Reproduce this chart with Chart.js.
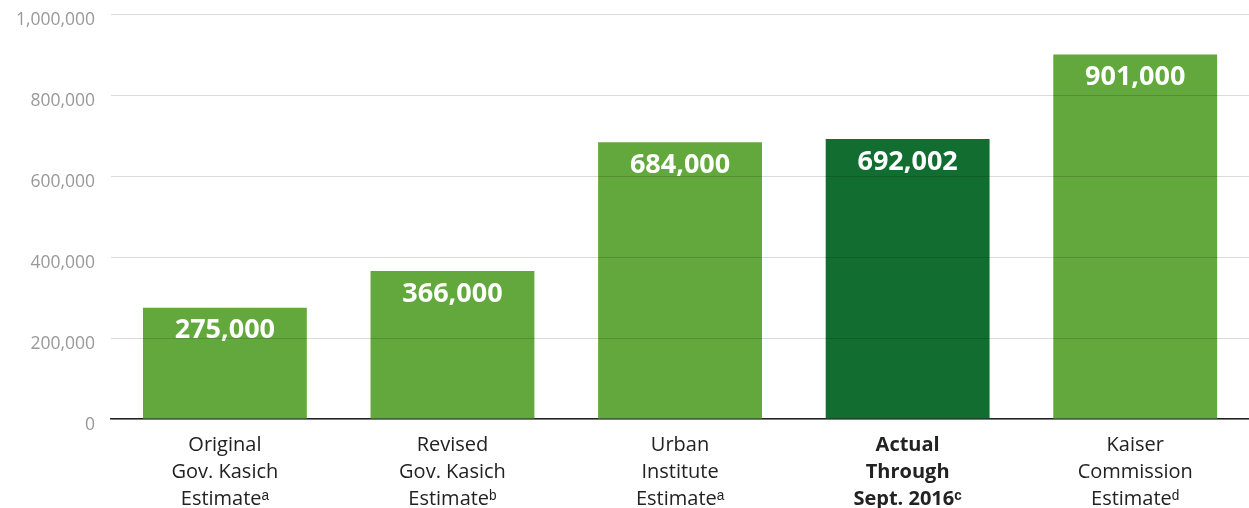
<!DOCTYPE html>
<html>
<head>
<meta charset="utf-8">
<script src="https://cdn.jsdelivr.net/npm/chart.js@4.4.1/dist/chart.umd.min.js"></script>
<style>
  html, body { margin: 0; padding: 0; background: #fff; overflow: hidden; }
  #wrap { position: relative; width: 1249px; height: 530px; margin-top: -12px; }
</style>
</head>
<body>
<div id="wrap"><canvas id="chart"></canvas></div>
<script>
// category labels (multi-line), superscripts as unicode modifier letters
const categories = [
  ['Original', 'Gov. Kasich', 'Estimate\u1D43'],
  ['Revised', 'Gov. Kasich', 'Estimate\u1D47'],
  ['Urban', 'Institute', 'Estimate\u1D43'],
  ['Actual', 'Through', 'Sept. 2016\u1D9C'],
  ['Kaiser', 'Commission', 'Estimate\u1D48']
];
const enrollment = [275000, 366000, 684000, 692002, 901000];
const barColors = ['#62a83c', '#62a83c', '#62a83c', '#116e30', '#62a83c'];
const highlightIndex = 3;

const fmt = v => v.toLocaleString('en-US');

// white value labels near the top of each bar
const valueLabels = {
  id: 'valueLabels',
  afterDatasetsDraw(chart) {
    const ctx = chart.ctx;
    const meta = chart.getDatasetMeta(0);
    ctx.save();
    ctx.fillStyle = '#fff';
    ctx.font = 'bold 27px "Open Sans", sans-serif';
    ctx.textAlign = 'center';
    ctx.textBaseline = 'middle';
    meta.data.forEach((bar, i) => {
      ctx.fillText(fmt(enrollment[i]), bar.x, bar.y + 23);
    });
    ctx.restore();
  }
};

new Chart(document.getElementById('chart'), {
  type: 'bar',
  data: {
    labels: categories,
    datasets: [{
      data: enrollment,
      backgroundColor: barColors,
      borderWidth: 0,
      barPercentage: 0.72,
      categoryPercentage: 1.0
    }]
  },
  options: {
    responsive: true,
    maintainAspectRatio: false,
    animation: false,
    layout: { padding: { top: 0, right: 0, left: 0, bottom: 0 } },
    plugins: {
      legend: { display: false },
      tooltip: { enabled: false }
    },
    scales: {
      x: {
        grid: { display: false },
        border: { display: true, color: '#222', width: 1.5 },
        ticks: {
          color: '#222',
          padding: 5,
          maxRotation: 0,
          autoSkip: false,
          font: ctx => ({
            family: '"Open Sans", sans-serif',
            size: 20,
            lineHeight: 1.35,
            weight: ctx.index === highlightIndex ? 'bold' : 'normal'
          })
        }
      },
      y: {
        min: 0,
        max: 1000000,
        grid: { color: 'rgba(0,0,0,0.14)', lineWidth: 1, drawTicks: false, z: 1 },
        border: { display: false },
        ticks: {
          stepSize: 200000,
          color: '#999',
          padding: 16,
          labelOffset: 6,
          font: { family: '"Open Sans", sans-serif', size: 17.5 },
          callback: v => fmt(v)
        }
      }
    }
  },
  plugins: [valueLabels]
});
</script>
</body>
</html>
